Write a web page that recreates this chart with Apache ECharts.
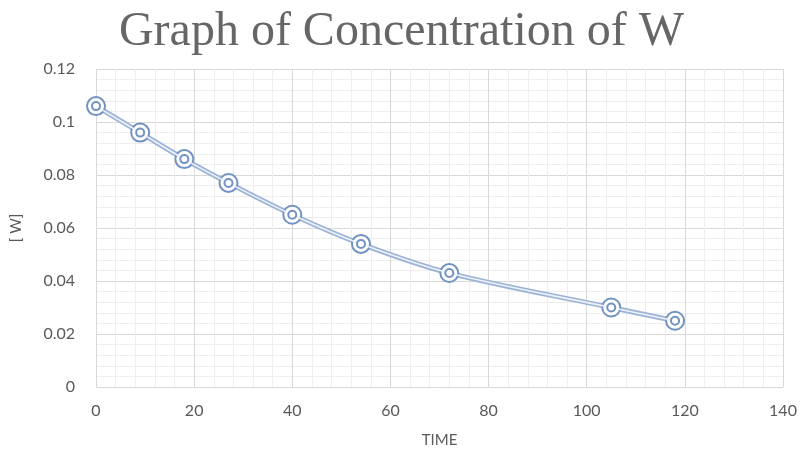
<!DOCTYPE html>
<html>
<head>
<meta charset="utf-8">
<script src="https://cdn.jsdelivr.net/npm/echarts@6/dist/echarts.min.js"></script>
<style>html,body{margin:0;padding:0;background:#fff;}#c{width:803px;height:456px;}</style>
</head>
<body>
<div id="c"></div>
<script>
var timeValues = [0, 9, 18, 27, 40, 54, 72, 105, 118];
var concValues = [0.106, 0.096, 0.086, 0.077, 0.065, 0.054, 0.043, 0.030, 0.025];
var xTicks = [0, 20, 40, 60, 80, 100, 120, 140];
var yTicks = [0, 0.02, 0.04, 0.06, 0.08, 0.1, 0.12];

var pts = timeValues.map(function (t, i) { return [t, concValues[i]]; });
var chart = echarts.init(document.getElementById('c'), null, {renderer: 'canvas'});
var txt = '#595959';
var markColor = '#7192c2';
var labelFont = 'Lato, "Open Sans", sans-serif';
chart.setOption({
  animation: false,
  title: {
    text: 'Graph of Concentration of W',
    left: 'center',
    top: 3,
    textStyle: {fontFamily: '"Liberation Serif", serif', fontSize: 48, fontWeight: 'normal', color: '#666666'}
  },
  grid: {left: 96, right: 20, top: 69, bottom: 69, containLabel: false},
  xAxis: {
    type: 'value', min: xTicks[0], max: xTicks[xTicks.length - 1], interval: 20,
    name: 'TIME', nameLocation: 'middle', nameGap: 46,
    nameTextStyle: {color: txt, fontSize: 15, fontFamily: labelFont},
    axisLine: {show: false}, axisTick: {show: false},
    axisLabel: {color: txt, fontSize: 16, fontFamily: labelFont, margin: 16},
    splitLine: {show: true, lineStyle: {color: '#d9d9d9', width: 1}},
    minorTick: {show: false, splitNumber: 5},
    minorSplitLine: {show: true, lineStyle: {color: '#eeeeee', width: 1}}
  },
  yAxis: {
    type: 'value', min: yTicks[0], max: yTicks[yTicks.length - 1], interval: 0.02,
    name: '[ W]', nameLocation: 'middle', nameGap: 72, nameRotate: 90,
    nameTextStyle: {color: txt, fontSize: 15, fontFamily: labelFont},
    axisLine: {show: false}, axisTick: {show: false},
    axisLabel: {color: txt, fontSize: 16, fontFamily: labelFont, margin: 21,
      formatter: function (v) { return String(+v.toFixed(2)); }},
    splitLine: {show: true, lineStyle: {color: '#d9d9d9', width: 1}},
    minorTick: {show: false, splitNumber: 5},
    minorSplitLine: {show: true, lineStyle: {color: '#eeeeee', width: 1}}
  },
  series: [
    {
      type: 'line', data: pts, smooth: 0.35, z: 2,
      lineStyle: {color: '#9cb3d7', width: 5},
      symbol: 'emptyCircle', symbolSize: 18,
      itemStyle: {color: markColor, borderColor: markColor, borderWidth: 2.5}
    },
    {
      type: 'line', data: pts, smooth: 0.35, z: 3,
      lineStyle: {color: '#eef2f8', width: 1.6},
      symbol: 'emptyCircle', symbolSize: 8,
      itemStyle: {color: markColor, borderColor: markColor, borderWidth: 2}
    }
  ]
});
</script>
</body>
</html>
